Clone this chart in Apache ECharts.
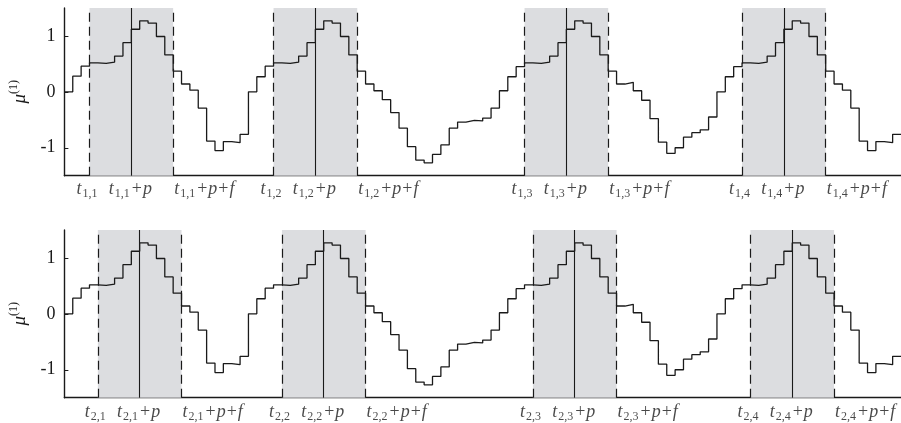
<!DOCTYPE html>
<html>
<head>
<meta charset="utf-8">
<script src="https://cdn.jsdelivr.net/npm/echarts@6/dist/echarts.min.js"></script>
<style>
html,body{margin:0;padding:0;background:#fff;}
#c{width:901px;height:423px;}
</style>
</head>
<body>
<div id="c"></div>
<script>
// step-wise values of mu^(1), one value per time step (step i covers [i, i+1])
const stepValues = [
  0, 0.28, 0.46, 0.52, 0.51, 0.53, 0.64, 0.88, 1.12, 1.27,
  1.23, 0.99, 0.66, 0.37, 0.14, 0.03, -0.29, -0.88, -1.05, -0.89,
  -0.91, -0.76, 0, 0.27, 0.46, 0.52, 0.51, 0.53, 0.64, 0.88,
  1.12, 1.27, 1.23, 0.99, 0.66, 0.37, 0.14, 0.02, -0.14, -0.37,
  -0.65, -0.98, -1.22, -1.27, -1.12, -0.95, -0.65, -0.54, -0.51, -0.52,
  -0.47, -0.29, 0.02, 0.27, 0.45, 0.52, 0.51, 0.53, 0.64, 0.88,
  1.12, 1.27, 1.23, 0.99, 0.66, 0.37, 0.14, 0.17, 0.02, -0.15,
  -0.48, -0.90, -1.10, -1.00, -0.81, -0.73, -0.68, -0.45, 0, 0.27,
  0.45, 0.52, 0.51, 0.53, 0.64, 0.88, 1.12, 1.27, 1.23, 0.99,
  0.66, 0.37, 0.14, 0.03, -0.29, -0.88, -1.05, -0.89, -0.91, -0.76
];
// window starts t_{r,k} (in steps) for each panel
const topStarts = [3, 25, 55, 81];
const bottomStarts = [4, 26, 56, 82];
const pLen = 5;   // p
const fLen = 5;   // f
const yTicks = [-1, 0, 1];
const yTickLabels = ['-1', '0', '1'];
const xMax = 100;

const SERIF2 = "'Liberation Serif', 'DejaVu Serif', serif";
const INK = '#1a1a1a';

const lineData = stepValues.map((v, i) => [i, v]);
lineData.push([stepValues.length, stepValues[stepValues.length - 1]]);

const rich = {
  t: {fontFamily: SERIF2, fontStyle: 'italic', fontSize: 18, color: INK, lineHeight: 20, verticalAlign: 'middle'},
  s: {fontFamily: SERIF2, fontSize: 12, color: INK, lineHeight: 20, verticalAlign: 'bottom', padding: [0, 1, 0, 1]},
  r: {fontFamily: SERIF2, fontSize: 18, color: INK, lineHeight: 20, verticalAlign: 'middle', padding: [0, 1, 0, 1]}
};

function tLabel(row, k, kind) {
  let s = '{t|t}{s|' + row + ',' + k + '}';
  if (kind >= 1) s += '{r|+}{t|p}';
  if (kind >= 2) s += '{r|+}{t|f}';
  return s;
}

function buildPanel(idx, row, starts, labelDy) {
  const areas = starts.map(s => [{xAxis: s}, {xAxis: s + pLen + fLen}]);
  const lines = [];
  starts.forEach(s => {
    lines.push({xAxis: s, lineStyle: {type: [9, 5], color: INK, width: 1.2}});
    lines.push({xAxis: s + pLen, lineStyle: {type: 'solid', color: INK, width: 1.1}});
    lines.push({xAxis: s + pLen + fLen, lineStyle: {type: [9, 5], color: INK, width: 1.2}});
  });
  const labels = [];
  starts.forEach((s, j) => {
    const k = j + 1;
    labels.push({value: [s, -1.5], label: {formatter: tLabel(row, k, 0), align: 'center', offset: [-2, 0]}});
    labels.push({value: [s + pLen, -1.5], label: {formatter: tLabel(row, k, 1), align: 'center', offset: [-1, 0]}});
    labels.push({value: [s + pLen + fLen, -1.5], label: {formatter: tLabel(row, k, 2), align: 'left', offset: [1, 0]}});
  });
  return [
    {
      type: 'line', xAxisIndex: idx, yAxisIndex: idx, data: lineData, step: 'end',
      showSymbol: false, symbol: 'none', silent: true,
      lineStyle: {color: INK, width: 1.3},
      markArea: {silent: true, itemStyle: {color: '#dcdde0'}, data: areas},
      markLine: {silent: true, symbol: ['none', 'none'], label: {show: false}, data: lines}
    },
    {
      type: 'scatter', xAxisIndex: idx, yAxisIndex: idx, data: labels, symbolSize: 0.01,
      itemStyle: {color: 'rgba(0,0,0,0)'}, silent: true, clip: false,
      label: {show: true, position: [0, labelDy], verticalAlign: 'top', rich: rich}
    }
  ];
}

function xAx(idx) {
  return {
    type: 'value', gridIndex: idx, min: 0, max: xMax,
    axisLine: {show: true, onZero: false, lineStyle: {color: INK, width: 1.4}},
    axisTick: {show: false}, axisLabel: {show: false}, splitLine: {show: false}
  };
}
function yAx(idx) {
  return {
    type: 'value', gridIndex: idx, min: -1.5, max: 1.5,
    name: '{m|μ}{u|(1)}', nameLocation: 'middle', nameRotate: 90, nameGap: 20,
    nameTextStyle: {rich: {
      m: {fontFamily: SERIF2, fontStyle: 'italic', fontSize: 19, color: INK, lineHeight: 24, verticalAlign: 'middle'},
      u: {fontFamily: SERIF2, fontSize: 12, color: INK, lineHeight: 24, verticalAlign: 'top'}
    }},
    axisLine: {show: true, onZero: false, lineStyle: {color: INK, width: 1.4}},
    axisTick: {show: true, inside: true, length: 4, customValues: yTicks, lineStyle: {color: INK, width: 1}},
    axisLabel: {show: true, customValues: yTicks, margin: 9, fontFamily: SERIF2, fontSize: 18, color: INK,
      formatter: v => yTickLabels[yTicks.indexOf(Math.round(v))]},
    splitLine: {show: false}
  };
}

const chart = echarts.init(document.getElementById('c'), null, {renderer: 'canvas'});
chart.setOption({
  animation: false,
  backgroundColor: '#fff',
  grid: [
    {left: 64, top: 8, width: 839.5, height: 167.7},
    {left: 64, top: 230, width: 839.5, height: 167.7}
  ],
  xAxis: [xAx(0), xAx(1)],
  yAxis: [yAx(0), yAx(1)],
  series: [].concat(buildPanel(0, 1, topStarts, 4), buildPanel(1, 2, bottomStarts, 5))
});
</script>
</body>
</html>
